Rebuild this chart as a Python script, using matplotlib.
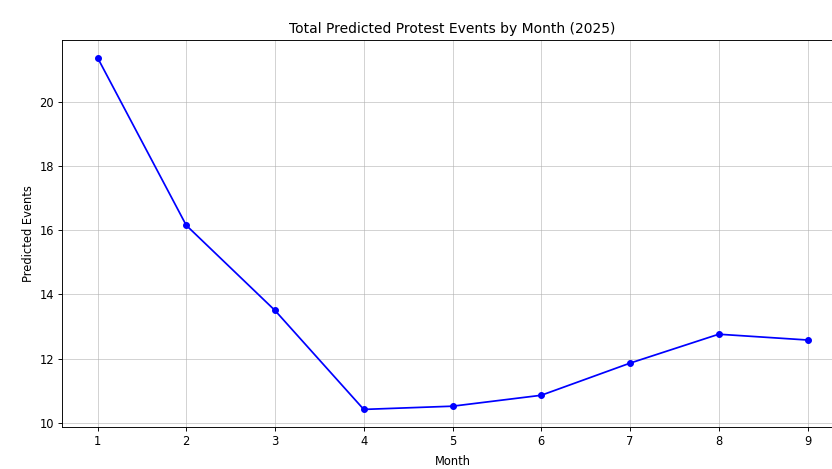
import matplotlib.pyplot as plt

# monthly totals
months = [1, 2, 3, 4, 5, 6, 7, 8, 9]
events = [21.37, 16.15, 13.5, 10.42, 10.52, 10.86, 11.86, 12.76, 12.58]

fig = plt.figure(figsize=(10, 469 / 83.2), dpi=83.2)
ax = fig.add_axes([62 / 832, 1 - 427 / 469, (843 - 62) / 832, (427 - 40) / 469])
ax.plot(months, events, color='blue', marker='o', markersize=5)
ax.set_title('Total Predicted Protest Events by Month (2025)')
ax.set_xlabel('Month', labelpad=6)
ax.set_ylabel('Predicted Events')
ax.set_xticks(months)
ax.grid(True, alpha=0.6)

fig.savefig('out.png', dpi=83.2)
